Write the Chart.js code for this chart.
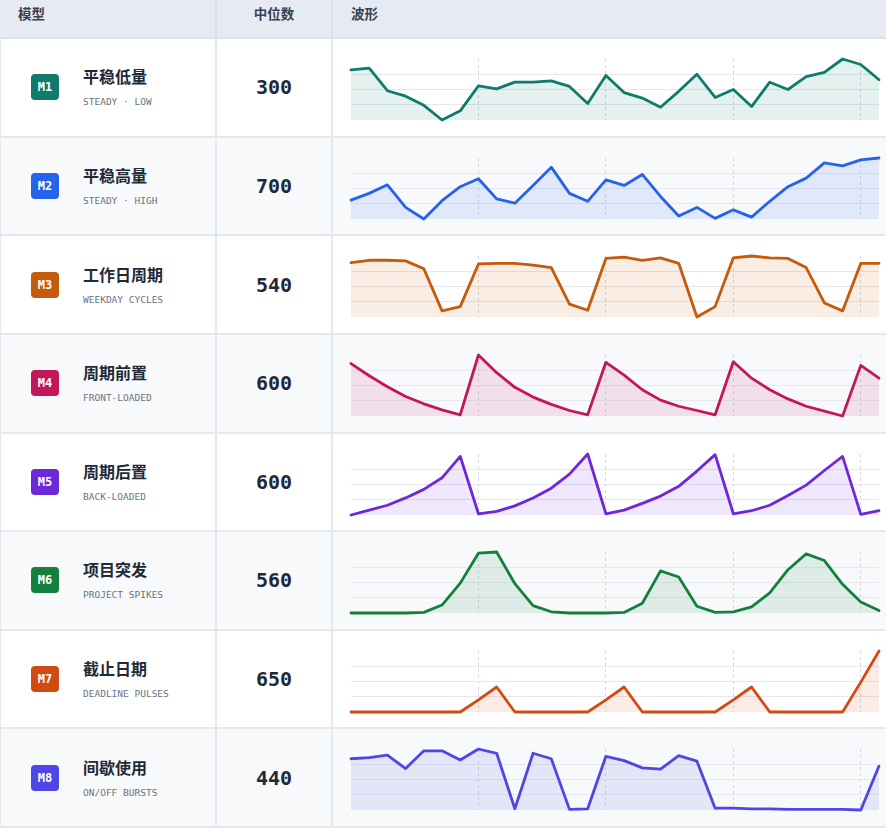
<!DOCTYPE html>
<html>
<head>
<meta charset="utf-8">
<script src="https://cdn.jsdelivr.net/npm/chart.js@4.4.1/dist/chart.umd.min.js"></script>
<style>
  body { margin: 0; background: #fff; font-family: "Noto Sans CJK SC", "Noto Sans", sans-serif; }
  #table {
    display: grid;
    grid-template-columns: 217px 116px 553px;
    grid-template-rows: 39px repeat(8, 98.625px);
    width: 886px; height: 828px; overflow: hidden;
  }
  .cell { box-sizing: border-box; border-right: 2px solid #e4e8ef; border-bottom: 2px solid #e4e8ef; position: relative; }
  .cell.c1 { border-left: 1px solid #e4e8ef; }
  .cell.c3 { border-right: none; }
  .head { background: #e6eaf2; font-size: 13.5px; font-weight: 700; color: #374151; line-height: 18px; padding-top: 4px; border-color: #dde2ea; }
  .head.c1 { padding-left: 17px; }
  .head.c2 { text-align: center; }
  .head.c3 { padding-left: 18px; }
  .alt { background: #f8f9fb; }
  .model { display: flex; align-items: center; padding-left: 30px; }
  .badge {
    width: 28px; height: 26px; border-radius: 4px; color: #fff; flex: none;
    font: 700 12px "DejaVu Sans Mono", monospace;
    display: flex; align-items: center; justify-content: center;
  }
  .names { margin-left: 24px; display: flex; flex-direction: column; }
  .name { font-size: 16px; font-weight: 700; color: #1f2937; line-height: 22px; }
  .tag { font: 9.5px "DejaVu Sans Mono", monospace; color: #6b7280; line-height: 14px; margin-top: 8px; }
  .median { display: flex; align-items: center; justify-content: center; font: 700 20px "DejaVu Sans Mono", monospace; color: #1f2937; }
  .wave .box { position: absolute; left: 15px; top: 17px; width: 534px; height: 67px; }
</style>
</head>
<body>
<div id="table"></div>
<script>
// one row per usage model
const modelIds = ['M1', 'M2', 'M3', 'M4', 'M5', 'M6', 'M7', 'M8'];
const modelNames = ['平稳低量', '平稳高量', '工作日周期', '周期前置', '周期后置', '项目突发', '截止日期', '间歇使用'];
const modelTags = ['STEADY · LOW', 'STEADY · HIGH', 'WEEKDAY CYCLES', 'FRONT-LOADED', 'BACK-LOADED', 'PROJECT SPIKES', 'DEADLINE PULSES', 'ON/OFF BURSTS'];
const medians = [300, 700, 540, 600, 600, 560, 650, 440];

const dayLabels = ['1', '2', '3', '4', '5', '6', '7', '8', '9', '10',
  '11', '12', '13', '14', '15', '16', '17', '18', '19', '20',
  '21', '22', '23', '24', '25', '26', '27', '28', '29', '30'];

// daily level, relative to each row's own range (0 = lowest, 100 = highest)
const waveM1 = [82, 85, 48, 39, 24, 0, 15, 56, 51, 62, 62, 64, 55, 27, 73, 45, 36, 21, 47, 75, 37, 50, 22, 62, 50, 71, 78, 100, 91, 66];
const waveM2 = [31, 42, 56, 19, 0, 30, 53, 66, 33, 26, 55, 85, 42, 29, 64, 55, 73, 37, 5, 19, 1, 15, 3, 29, 53, 67, 92, 87, 97, 100];
const waveM3 = [89, 93, 93, 92, 79, 10, 17, 87, 88, 88, 85, 81, 21, 11, 96, 98, 93, 97, 88, 0, 17, 97, 100, 97, 96, 81, 23, 10, 88, 88];
const waveM4 = [86, 66, 48, 32, 20, 10, 2, 100, 71, 47, 31, 19, 9, 2, 88, 67, 43, 26, 16, 9, 2, 89, 62, 43, 28, 16, 8, 0, 83, 62];
const waveM5 = [0, 8, 16, 28, 42, 61, 96, 2, 6, 15, 28, 44, 67, 100, 2, 8, 19, 31, 47, 72, 99, 2, 7, 16, 32, 49, 73, 96, 1, 7];
const waveM6 = [0, 0, 0, 0, 1, 13, 49, 98, 100, 48, 12, 2, 0, 0, 0, 1, 16, 69, 59, 11, 1, 2, 10, 33, 71, 97, 86, 47, 18, 4];
const waveM7 = [0, 0, 0, 0, 0, 0, 0, 20, 41, 0, 0, 0, 0, 0, 20, 41, 0, 0, 0, 0, 0, 20, 41, 0, 0, 0, 0, 0, 49, 100];
const waveM8 = [84, 86, 90, 68, 97, 97, 82, 100, 93, 2, 93, 84, 1, 2, 88, 81, 69, 67, 89, 80, 3, 3, 2, 2, 1, 1, 1, 1, 0, 72];

const waves = [waveM1, waveM2, waveM3, waveM4, waveM5, waveM6, waveM7, waveM8];
const colors = ['#0f7b6c', '#2563eb', '#c45a0c', '#c2185b', '#6d28d9', '#15803d', '#d24a12', '#4f46e5'];

function hexToRgba(hex, a) {
    const n = parseInt(hex.slice(1), 16);
    return `rgba(${(n >> 16) & 255}, ${(n >> 8) & 255}, ${n & 255}, ${a})`;
}

function addCell(cls, html) {
    const el = document.createElement('div');
    el.className = 'cell ' + cls;
    el.innerHTML = html || '';
    document.getElementById('table').appendChild(el);
    return el;
}

addCell('head c1', '模型');
addCell('head c2', '中位数');
addCell('head c3', '波形');

modelIds.forEach((id, i) => {
    const alt = i % 2 === 1 ? ' alt' : '';
    addCell('c1 model' + alt,
        `<div class="badge" style="background:${colors[i]}">${id}</div>` +
        `<div class="names"><div class="name">${modelNames[i]}</div><div class="tag">${modelTags[i]}</div></div>`);
    addCell('c2 median' + alt, String(medians[i]));
    const waveCell = addCell('c3 wave' + alt, '<div class="box"><canvas></canvas></div>');

    const data = waves[i];
    const lo = Math.min(...data);
    const hi = Math.max(...data);

    new Chart(waveCell.querySelector('canvas'), {
        type: 'line',
        data: {
            labels: dayLabels,
            datasets: [{
                data: data,
                borderColor: colors[i],
                backgroundColor: hexToRgba(colors[i], 0.11),
                borderWidth: 2.8,
                fill: 'start',
                tension: 0,
                pointRadius: 0,
                borderJoinStyle: 'round',
                borderCapStyle: 'round',
                clip: false
            }]
        },
        options: {
            responsive: true,
            maintainAspectRatio: false,
            animation: false,
            events: [],
            layout: { padding: 3 },
            plugins: { legend: { display: false }, tooltip: { enabled: false } },
            scales: {
                x: {
                    type: 'category',
                    offset: false,
                    ticks: { display: false },
                    border: { display: false, dash: [3, 3] },
                    grid: {
                        drawTicks: false,
                        lineWidth: 1,
                        // weekly markers
                        color: c => (c.index > 0 && c.index % 7 === 0) ? '#d3d8e0' : 'transparent'
                    }
                },
                y: {
                    min: lo,
                    max: hi,
                    ticks: { display: false, stepSize: (hi - lo) / 4 },
                    border: { display: false },
                    grid: {
                        drawTicks: false,
                        lineWidth: 1,
                        color: c => (c.index > 0 && c.index < 4) ? '#e5e8ef' : 'transparent'
                    }
                }
            }
        }
    });
});
</script>
</body>
</html>
